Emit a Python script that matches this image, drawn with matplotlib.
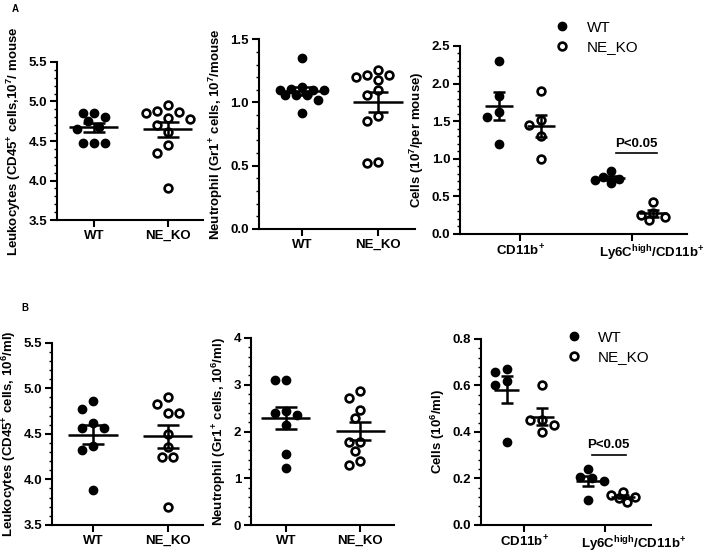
import numpy as np
import matplotlib
matplotlib.use("Agg")
import matplotlib.pyplot as plt
from matplotlib.ticker import MultipleLocator, FormatStrFormatter
from matplotlib.lines import Line2D
from matplotlib.transforms import ScaledTranslation

plt.rcParams["font.family"] = ["Liberation Sans", "DejaVu Sans"]
plt.rcParams["font.weight"] = "bold"
plt.rcParams["axes.labelweight"] = "bold"
plt.rcParams["mathtext.fontset"] = "custom"
plt.rcParams["mathtext.rm"] = "Liberation Sans:bold"
plt.rcParams["mathtext.bf"] = "Liberation Sans:bold"
plt.rcParams["mathtext.it"] = "Liberation Sans:bold"
plt.rcParams["mathtext.default"] = "rm"

# ---- data ----
groups = ["WT", "NE_KO"]
cells = ["CD11b$^{+}$", "Ly6C$^{high}$/CD11b$^{+}$"]

# A: per mouse
a1_wt = [4.86, 4.86, 4.80, 4.75, 4.68, 4.65, 4.48, 4.48, 4.48]
a1_ko = [4.95, 4.88, 4.87, 4.86, 4.79, 4.78, 4.70, 4.62, 4.45, 4.35, 3.90]
a2_wt = [1.35, 1.11, 1.10, 1.12, 1.10, 1.10, 1.06, 1.06, 1.06, 1.02, 0.92]
a2_ko = [1.26, 1.22, 1.22, 1.20, 1.18, 1.10, 1.06, 0.89, 0.85, 0.53, 0.52]
a3_wt = [[2.30, 1.83, 1.62, 1.55, 1.20], [0.84, 0.76, 0.73, 0.72, 0.68]]
a3_ko = [[1.90, 1.52, 1.45, 1.30, 1.00], [0.43, 0.28, 0.25, 0.22, 0.18]]

# B: per ml
b1_wt = [4.86, 4.77, 4.62, 4.56, 4.56, 4.37, 4.32, 3.88]
b1_ko = [4.90, 4.83, 4.73, 4.73, 4.50, 4.35, 4.25, 4.25, 3.70]
b2_wt = [3.10, 3.10, 2.45, 2.40, 2.35, 2.15, 1.52, 1.22]
b2_ko = [2.86, 2.72, 2.47, 2.28, 1.78, 1.78, 1.58, 1.38, 1.28]
b3_wt = [[0.67, 0.66, 0.62, 0.60, 0.355], [0.24, 0.205, 0.20, 0.19, 0.105]]
b3_ko = [[0.60, 0.45, 0.45, 0.43, 0.40], [0.14, 0.13, 0.12, 0.115, 0.10]]

fig = plt.figure(figsize=(7.09, 5.53), dpi=100)


def swarm_x(ax, x0, vals, step_px=11, reach_px=10, max_k=2):
    # soft beeswarm: each point takes the half-step slot with the least crowding
    tr = ax.transData
    placed = []
    xs = [0.0] * len(vals)
    order = sorted(range(len(vals)), key=lambda i: -vals[i])
    slots = [0.0]
    for k in np.arange(0.5, max_k + 0.01, 0.5):
        slots += [-k, k]
    for i in order:
        cx, cy = tr.transform((x0, vals[i]))
        best, best_score = cx, None
        for k in slots:
            px = cx + k * step_px
            score = 0.01 * abs(k)
            for qx, qy in placed:
                d = np.hypot(px - qx, cy - qy)
                score += max(0.0, reach_px - d) ** 2
            if best_score is None or score < best_score - 1e-9:
                best, best_score = px, score
        placed.append((best, cy))
        xs[i] = tr.inverted().transform((best, cy))[0]
    return xs


def draw_group(ax, x0, vals, filled, hw, cap, step_px=11):
    xs = swarm_x(ax, x0, vals, step_px)
    if filled:
        ax.plot(xs, vals, "o", color="black", ms=6, ls="", zorder=3, clip_on=False)
    else:
        ax.plot(xs, vals, "o", mfc="white", mec="black", mew=1.9, ms=5.6, ls="",
                zorder=3, clip_on=False)
    m = np.mean(vals)
    sem = np.std(vals, ddof=1) / np.sqrt(len(vals))
    ax.hlines(m, x0 - hw, x0 + hw, color="black", lw=1.8, zorder=4)
    ax.errorbar(x0, m, yerr=sem, fmt="none", ecolor="black", elinewidth=1.8,
                capsize=cap, capthick=1.8, zorder=4)


def style_axes(ax, ylim, major, ylabel, xlim, labelpad=4):
    ax.set_ylim(*ylim)
    ax.set_xlim(*xlim)
    ax.yaxis.set_major_locator(MultipleLocator(major))
    ax.yaxis.set_minor_locator(MultipleLocator(major / 5))
    for s in ["top", "right"]:
        ax.spines[s].set_visible(False)
    for s in ["left", "bottom"]:
        ax.spines[s].set_linewidth(1.5)
    ax.tick_params(axis="both", which="major", width=1.5, length=5, labelsize=9.5, pad=2)
    ax.tick_params(axis="y", which="minor", width=1.0, length=2.5)
    ax.set_ylabel(ylabel, fontsize=9.5, labelpad=labelpad)


def two_group_panel(rect, wt, ko, ylim, major, fmt, ylabel, xlim, hw, cap):
    ax = fig.add_axes(rect)
    style_axes(ax, ylim, major, ylabel, xlim)
    ax.set_xticks([0, 1])
    ax.set_xticklabels(groups)
    ax.yaxis.set_major_formatter(FormatStrFormatter(fmt))
    draw_group(ax, 0, wt, True, hw, cap)
    draw_group(ax, 1, ko, False, hw, cap)
    return ax


def cell_panel(rect, wt, ko, ylim, major, ylabel, xlim, off, hw, cap, p_y, step_px,
               leg_anchor, label_shift):
    ax = fig.add_axes(rect)
    style_axes(ax, ylim, major, ylabel, xlim)
    ax.yaxis.set_major_formatter(FormatStrFormatter("%.1f"))
    ax.set_xticks([0, 1])
    ax.set_xticklabels(cells)
    lab = ax.xaxis.get_major_ticks()[1].label1
    lab.set_transform(lab.get_transform() + ScaledTranslation(label_shift / 72, 0, fig.dpi_scale_trans))
    for i in range(2):
        draw_group(ax, i - off, wt[i], True, hw, cap, step_px)
        draw_group(ax, i + off, ko[i], False, hw, cap, step_px)
    x1, x2 = 1 - off + 0.05, 1 + off + 0.03
    ax.plot([x1, x2], [p_y, p_y], color="black", lw=1.2)
    ax.text((x1 + x2) / 2, p_y + (ylim[1] - ylim[0]) * 0.02, "P<0.05",
            ha="center", va="bottom", fontsize=9.5, fontweight="bold")
    handles = [
        Line2D([], [], marker="o", ls="", color="black", ms=6),
        Line2D([], [], marker="o", ls="", mfc="white", mec="black", mew=1.9, ms=5.6),
    ]
    ax.legend(handles, groups, loc="center left", bbox_to_anchor=leg_anchor,
              frameon=False, prop={"size": 11, "weight": "normal"},
              handletextpad=0.6, labelspacing=0.35, borderaxespad=0)
    return ax


# ---- row A ----
two_group_panel([0.080, 0.602, 0.206, 0.286], a1_wt, a1_ko, (3.5, 5.5), 0.5, "%.1f",
                "Leukocytes (CD45$^{+}$ cells,10$^{7}$/ mouse", (-0.5, 1.47), 0.33, 8)
two_group_panel([0.365, 0.586, 0.220, 0.343], a2_wt, a2_ko, (0.0, 1.5), 0.5, "%.1f",
                "Neutrophil (Gr1$^{+}$ cells, 10$^{7}$/mouse", (-0.57, 1.49), 0.33, 7)
cell_panel([0.649, 0.577, 0.320, 0.340], a3_wt, a3_ko, (0.0, 2.5), 0.5,
           "Cells (10$^{7}$/per mouse)", (-0.536, 1.49), 0.19, 0.125, 4, 1.07, 8,
           (0.355, 1.045), 14)

# ---- row B ----
two_group_panel([0.073, 0.051, 0.213, 0.329], b1_wt, b1_ko, (3.5, 5.5), 0.5, "%.1f",
                "Leukocytes (CD45$^{+}$ cells, 10$^{6}$/ml)", (-0.55, 1.47), 0.33, 8)
two_group_panel([0.354, 0.050, 0.202, 0.339], b2_wt, b2_ko, (0, 4), 1, "%d",
                "Neutrophil (Gr1$^{+}$ cells, 10$^{6}$/ml)", (-0.47, 1.46), 0.33, 8)
cell_panel([0.678, 0.051, 0.240, 0.336], b3_wt, b3_ko, (0.0, 0.8), 0.2,
           "Cells (10$^{6}$/ml)", (-0.54, 1.56), 0.22, 0.15, 4.5, 0.30, 8,
           (0.42, 0.955), 20)

fig.text(0.016, 0.992, "A", fontsize=7, fontweight="bold", va="top")
fig.text(0.030, 0.452, "B", fontsize=7, fontweight="bold", va="top")

fig.savefig("out.png", dpi=100)
